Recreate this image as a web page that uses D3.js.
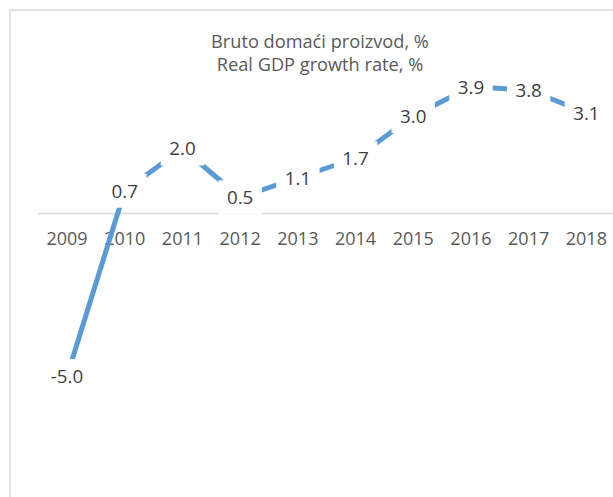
<!DOCTYPE html>
<html>
<head>
<meta charset="utf-8">
<script src="https://cdn.jsdelivr.net/npm/d3@7"></script>
<style>
  html, body { margin: 0; padding: 0; background: #fff; }
  svg { display: block; }
  text { font-family: "Open Sans", "Noto Sans", sans-serif; }
</style>
</head>
<body>
<svg id="chart" width="613" height="497"></svg>
<script>
const years = ["2009","2010","2011","2012","2013","2014","2015","2016","2017","2018"];
const gdpGrowth = [-5.0, 0.7, 2.0, 0.5, 1.1, 1.7, 3.0, 3.9, 3.8, 3.1];
const titleLines = ["Bruto domaći proizvod, %", "Real GDP growth rate, %"];

const W = 613, H = 497;
const svg = d3.select("#chart");

// chart area border (cropped on right/bottom)
svg.append("rect")
  .attr("x", 10).attr("y", 10)
  .attr("width", W + 20).attr("height", H + 20)
  .attr("fill", "#fff")
  .attr("stroke", "#d9d9d9").attr("stroke-width", 1.5);

const x = d3.scaleBand().domain(years).range([38.2, 615.2]);
const unit = 32.5, zeroY = 213.5;
const y = d3.scaleLinear().domain([-8, 4]).range([zeroY + 8 * unit, zeroY - 4 * unit]);

// title
const title = svg.append("text")
  .attr("text-anchor", "middle")
  .attr("fill", "#595959")
  .attr("font-size", 18.2);
titleLines.forEach((t, i) => {
  title.append("tspan").attr("x", 320).attr("y", 48 + i * 22.5).text(t);
});

// category axis at zero
const axisG = svg.append("g").attr("transform", `translate(0,${y(0)})`);
const axis = d3.axisBottom(x).tickSize(0).tickPadding(19);
axisG.call(axis);
axisG.select(".domain").attr("stroke", "#d9d9d9").attr("stroke-width", 1.5)
  .attr("d", `M${x.range()[0]},0H${W + 5}`);
axisG.selectAll(".tick text")
  .attr("fill", "#595959")
  .attr("font-size", 18)
  .attr("font-family", '"Open Sans", "Noto Sans", sans-serif');

const pts = years.map((yr, i) => ({ yr, v: gdpGrowth[i] }));
const cx = d => x(d.yr) + x.bandwidth() / 2;

// line
svg.append("path")
  .datum(pts)
  .attr("fill", "none")
  .attr("stroke", "#5b9bd5")
  .attr("stroke-width", 5)
  .attr("stroke-linejoin", "round")
  .attr("d", d3.line().x(cx).y(d => y(d.v)));

// data labels with white boxes
const fs = 18.8;
const fmt = v => v.toFixed(1);
const lab = svg.append("g").selectAll("g").data(pts).join("g")
  .attr("transform", d => `translate(${cx(d)},${y(d.v)})`);
lab.append("rect").attr("fill", "#fff");
const texts = lab.append("text")
  .attr("text-anchor", "middle")
  .attr("fill", "#404040")
  .attr("font-size", fs)
  .attr("dy", fs * 0.36)
  .text(d => fmt(d.v));
texts.each(function() {
  const w = this.getComputedTextLength();
  d3.select(this.previousSibling)
    .attr("x", -w / 2 - 8.5).attr("width", w + 17)
    .attr("y", -17).attr("height", 34);
});
</script>
</body>
</html>
